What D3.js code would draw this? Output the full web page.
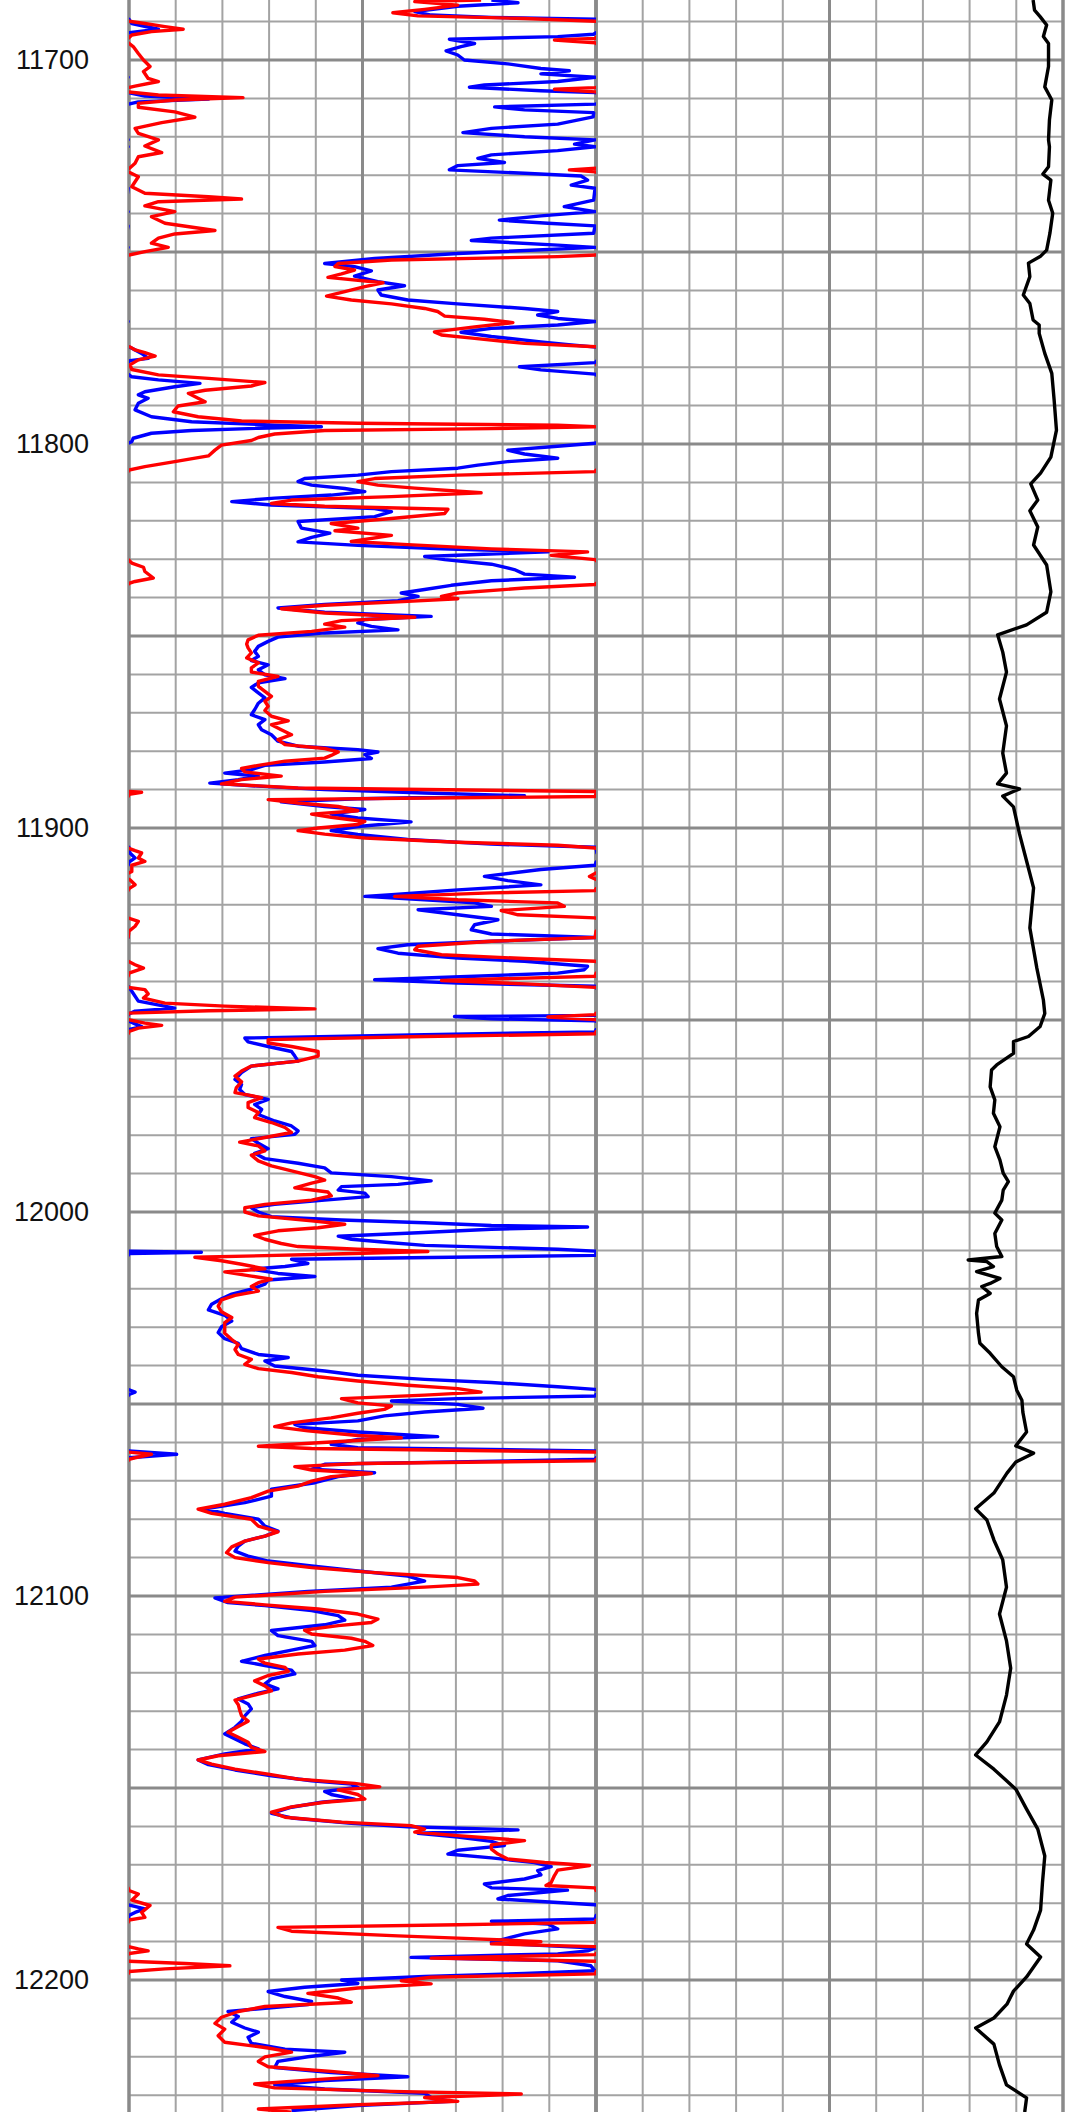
<!DOCTYPE html>
<html>
<head>
<meta charset="utf-8">
<script src="https://cdn.jsdelivr.net/npm/d3@7"></script>
<style>
body { margin: 0; background: #fff; }
svg { display: block; }
</style>
</head>
<body>
<div id="display"></div>
<script>
// depth labels on the left
const depth_labels = [11700, 11800, 11900, 12000, 12100, 12200];

// track 1, blue curve (values above 100 wrap back onto the track)
const blue_depth = [11684.4,11685.1,11686.0,11687.4,11688.3,11688.9,11689.4,11690.5,11692.0,11692.9,11693.3,11693.9,11694.6,11695.7,11696.5,11697.6,11698.7,11700.0,11701.0,11702.2,11702.8,11703.6,11704.5,11705.6,11706.5,11707.1,11708.0,11708.5,11709.4,11710.2,11710.9,11711.5,11712.2,11713.0,11713.7,11714.8,11716.7,11717.8,11718.9,11720.0,11720.8,11721.9,11722.6,11723.6,11724.7,11725.6,11726.7,11727.5,11728.6,11729.5,11730.2,11731.3,11732.6,11733.4,11736.5,11738.2,11739.5,11740.6,11741.7,11742.5,11743.2,11745.1,11746.4,11747.0,11748.2,11748.8,11750.4,11751.7,11753.0,11753.8,11754.9,11756.3,11757.7,11758.8,11759.9,11761.2,11762.5,11763.5,11764.7,11765.5,11766.4,11767.3,11768.1,11769.0,11769.9,11770.9,11772.0,11773.4,11774.2,11774.8,11776.4,11777.7,11778.3,11778.8,11779.9,11780.7,11781.8,11782.5,11783.3,11784.2,11785.1,11786.4,11787.2,11788.1,11789.4,11791.1,11792.9,11794.2,11795.1,11795.5,11795.9,11796.5,11797.2,11798.5,11799.4,11799.8,11800.7,11801.6,11802.6,11803.7,11804.6,11805.5,11806.3,11807.2,11808.1,11809.0,11809.8,11810.7,11811.6,11812.4,11813.3,11814.1,11815.0,11815.9,11816.8,11817.6,11818.9,11820.2,
  11821.9,11823.2,11824.3,11825.5,11826.4,11827.3,11828.1,11829.3,11830.1,11831.3,11832.7,11833.9,11834.7,11835.6,11836.8,11837.9,11838.8,11839.7,11840.8,11841.8,11842.7,11843.8,11844.9,11845.7,11846.6,11847.5,11848.4,11849.2,11850.3,11851.4,11852.7,11854.0,11855.3,11856.4,11857.5,11858.8,11860.1,11861.1,11862.2,11863.4,11864.8,11866.1,11867.5,11869.2,11870.5,11871.8,11873.1,11874.4,11875.7,11877.4,11878.7,11879.6,11880.2,11880.9,11881.9,11882.8,11883.7,11884.8,11885.7,11886.5,11887.4,11888.3,11889.1,11890.0,11890.9,11891.6,11892.4,11893.2,11894.4,11895.2,11896.4,11897.4,11898.4,11899.6,11900.7,11901.7,11903.0,11904.2,11905.0,11906.5,11907.8,11908.9,11909.7,11910.8,11912.6,11913.7,11914.8,11916.1,11917.4,11917.8,11918.7,11919.5,11920.4,11921.3,11922.6,11923.9,11925.2,11926.5,11927.6,11928.5,11929.5,11930.4,11931.4,11932.6,11933.9,11934.7,11936.0,11936.9,11937.8,11938.6,11939.5,11940.4,11941.2,11942.5,11945.1,11946.9,11947.7,11948.4,11948.8,11949.1,11949.7,11950.2,11951.0,11951.7,11952.5,11953.1,11953.8,11954.7,11955.7,11956.9,11958.2,
  11959.4,11960.7,11962.0,11963.7,11965.5,11966.8,11968.1,11969.4,11970.7,11972.0,11973.3,11974.6,11976.3,11977.6,11978.9,11979.8,11980.9,11982.1,11983.5,11984.7,11986.1,11987.3,11988.5,11989.8,11990.8,11991.9,11992.8,11993.4,11994.3,11995.1,11996.0,11996.9,11998.0,11998.9,12000.0,12001.2,12002.1,12002.8,12003.5,12003.9,12004.5,12005.4,12006.3,12007.1,12008.0,12008.7,12009.7,12010.2,12010.5,12010.8,12011.3,12012.3,12013.4,12014.2,12014.9,12016.0,12016.8,12017.7,12018.8,12020.1,12021.4,12022.6,12024.0,12025.5,12026.9,12028.4,12029.9,12031.4,12033.0,12034.2,12035.6,12037.1,12037.9,12038.8,12040.1,12041.4,12042.5,12043.6,12044.4,12045.5,12046.2,12046.9,12047.5,12047.9,12048.6,12049.2,12050.1,12051.1,12052.1,12053.1,12054.4,12055.3,12056.2,12057.3,12058.5,12059.2,12060.5,12061.4,12062.2,12063.1,12064.0,12064.4,12065.7,12067.0,12067.9,12068.9,12070.5,12072.2,12074.0,12075.7,12077.3,12078.5,12080.0,12081.8,12083.1,12084.4,12085.7,12087.0,12088.3,12089.6,12090.9,12092.2,12093.5,12094.8,12096.1,
  12096.9,12097.7,12098.8,12100.5,12101.7,12102.5,12103.8,12105.1,12106.3,12107.5,12109.0,12110.3,12111.8,12112.9,12114.1,12115.5,12117.0,12118.1,12119.3,12120.3,12121.6,12122.9,12124.2,12125.3,12126.8,12128.1,12129.4,12131.2,12132.6,12134.2,12135.9,12137.2,12138.5,12139.8,12141.1,12142.7,12143.9,12145.3,12146.8,12148.1,12149.0,12149.8,12150.9,12151.7,12152.9,12153.7,12155.0,12156.6,12157.8,12159.2,12160.1,12160.9,12161.8,12162.8,12163.9,12165.0,12166.2,12167.2,12168.2,12169.4,12170.5,12171.5,12172.6,12173.7,12175.0,12176.0,12176.6,12177.2,12178.0,12178.9,12179.8,12180.4,12181.5,12182.4,12183.2,12184.1,12184.7,12185.4,12186.7,12188.0,12189.1,12190.2,12190.8,12191.7,12192.4,12193.2,12194.1,12195.0,12196.3,12197.6,12198.3,12199.1,12200.0,12200.9,12201.9,12203.0,12204.3,12205.6,12206.4,12207.3,12208.2,12209.5,12211.0,12212.5,12213.6,12214.9,12216.5,12218.0,12218.8,12220.0,12221.2,12222.8,12224.1,12225.2,12226.2,12227.3,12228.4,12229.5,12230.6,12231.6,12232.7,12234.0];
const blue_value = [77.6,83.3,70.4,61.2,64.7,77.6,100,100.6,106.3,100,99.5,91.8,68.6,74.0,71.1,67.9,70.4,71.8,81.1,88.2,94.3,88.2,99.8,91.8,76.1,72.9,88.2,99.8,103.4,117.0,102.0,99.8,78.3,84.7,99.5,99.4,91.8,77.6,71.5,84.7,99.8,95.4,99.8,91.8,77.6,74.7,80.4,70.4,68.6,84.7,96.8,98.2,94.7,99.8,99.5,93.2,99.8,88.2,79.3,89.7,99.8,99.5,77.6,73.3,91.8,99.8,70.4,52.6,41.9,48.3,51.9,48.3,53.3,59.0,53.3,54.0,59.7,70.4,84.7,91.8,87.5,91.8,99.8,91.8,77.6,71.1,77.6,88.2,94.7,100.2,102.7,104.1,100.2,99.8,83.6,88.2,99.8,100.6,106.3,115.2,109.8,103.4,102.0,104.1,102.0,101.3,104.8,113.4,131.2,141.2,127.7,113.4,104.8,100.9,100.6,99.8,90.4,81.1,84.7,91.8,81.1,74.7,70.4,56.2,49.0,37.6,36.2,39.1,46.2,50.5,43.3,31.2,22.0,30.5,52.6,56.2,52.6,36.2,
  36.9,43.0,39.1,36.2,49.0,66.9,89.7,63.3,67.6,77.6,82.5,84.7,95.4,77.6,69.0,63.3,58.3,61.9,57.6,41.9,31.9,41.9,64.7,50.5,49.0,51.9,57.6,41.9,31.9,29.8,27.7,26.9,27.7,26.2,29.8,27.7,29.1,33.4,27.7,26.2,27.7,29.1,27.7,26.9,26.2,29.1,27.7,28.4,30.5,31.9,36.2,49.0,53.3,50.5,51.9,41.9,29.1,26.2,20.5,27.7,23.4,17.3,27.7,41.9,63.3,84.7,49.0,32.6,41.9,50.5,43.3,49.0,60.4,49.0,43.3,49.0,59.7,77.6,100,100.2,101.3,100,99.8,88.2,76.1,81.1,88.2,70.4,56.2,50.5,63.3,74.0,77.6,61.9,70.4,79.0,74.0,73.3,77.6,99.8,77.6,59.7,53.3,57.6,70.4,84.7,98.2,97.5,91.8,74.0,52.6,70.4,99.8,100.6,102.0,109.8,101.3,100,99.8,69.7,77.6,99.8,101.3,102.7,100,99.8,63.3,24.8,25.5,29.8,34.8,
  35.5,36.2,26.2,24.1,22.7,24.1,23.7,24.8,29.8,26.9,28.4,27.7,31.2,34.8,36.2,35.5,26.2,27.7,29.8,26.9,29.1,36.2,41.9,43.3,56.2,64.7,57.6,45.5,44.8,50.5,51.2,41.9,31.2,26.2,27.7,30.5,45.5,63.3,77.6,98.2,77.6,61.9,44.8,47.6,56.2,63.3,91.8,99.8,115.5,100,99.8,34.8,38.3,33.4,26.2,31.9,39.8,29.8,29.1,26.2,22.0,19.8,17.7,17.0,20.5,22.0,19.8,19.1,20.5,23.4,24.1,27.7,34.1,29.1,31.2,41.9,49.0,63.3,77.6,91.8,99.8,101.3,100,99.8,70.4,56.2,70.4,75.8,63.3,54.7,49.0,35.5,37.6,49.0,66.1,49.0,43.3,49.0,99.8,110.2,100,99.8,41.9,39.1,52.6,44.8,39.8,30.5,30.5,24.8,16.3,20.5,27.7,29.1,31.9,29.1,24.8,23.4,22.7,25.5,29.8,39.1,49.0,59.7,63.3,
  59.7,56.2,38.3,18.4,21.2,29.1,39.1,44.8,46.2,41.9,30.5,31.9,39.1,39.8,34.8,29.1,24.1,29.1,34.8,35.5,30.5,29.1,31.9,27.7,23.4,25.5,26.2,24.8,24.1,22.7,20.5,22.7,24.8,27.7,20.5,14.8,17.0,22.7,30.5,39.1,47.6,49.0,41.9,43.3,48.3,41.2,34.8,30.5,34.8,47.6,59.7,83.3,61.9,70.4,77.6,80.4,70.4,68.3,77.6,86.8,90.4,87.5,88.2,84.7,76.1,77.6,93.9,88.2,81.1,79.0,91.8,99.8,103.4,101.3,100,99.8,77.6,89.7,91.8,84.7,81.1,77.6,84.7,99.8,98.2,91.8,60.4,91.8,98.9,99.8,84.7,63.3,45.5,49.0,37.6,29.8,33.4,39.1,38.3,29.8,21.2,23.4,22.0,24.8,27.7,25.5,26.2,33.4,46.2,38.3,31.9,31.2,43.3,59.7,41.9,31.2,41.9,63.3,64.7,69.0,49.0,34.8];

// track 1, red curve
const red_depth = [11684.4,11684.8,11685.7,11686.8,11687.7,11688.5,11689.2,11689.9,11690.5,11691.3,11692.0,11692.6,11693.5,11694.4,11694.8,11695.5,11696.5,11698.3,11700.0,11701.7,11703.0,11704.8,11705.6,11706.8,11707.2,11707.6,11708.3,11709.1,11709.8,11710.4,11711.3,11712.3,11713.5,11714.9,11716.3,11717.8,11719.1,11720.8,11722.4,11724.1,11725.2,11726.9,11728.2,11728.6,11729.1,11730.4,11733.0,11734.7,11735.6,11736.2,11736.9,11738.0,11739.5,11740.8,11742.5,11744.4,11745.3,11746.4,11747.7,11748.8,11749.9,11750.8,11751.2,11752.1,11753.0,11753.8,11754.7,11755.7,11756.6,11758.0,11759.0,11760.3,11761.5,11762.5,11763.5,11764.7,11765.5,11766.7,11767.5,11768.4,11769.5,11770.8,11771.6,11772.5,11773.8,11774.7,11775.5,11776.2,11777.1,11778.1,11779.4,11780.6,11782.0,11782.9,11784.0,11784.9,11786.0,11786.8,11788.1,11789.0,11790.1,11791.6,11792.9,11794.0,11794.6,11795.1,11795.5,11796.0,11796.5,11797.4,11798.3,11799.1,11800.3,11801.6,11803.1,11804.6,11805.9,11806.8,11807.2,11808.1,11809.0,11809.8,11810.7,11811.5,11812.7,11813.7,11814.6,11815.5,11816.2,11817.0,11818.1,11819.4,11820.7,
  11821.9,11822.6,11823.8,11825.4,11826.2,11827.3,11828.1,11829.0,11830.1,11831.0,11832.1,11833.2,11834.9,11835.8,11836.3,11836.6,11837.5,11838.8,11839.7,11840.3,11841.1,11842.0,11842.9,11844.0,11845.1,11846.0,11846.9,11847.7,11848.8,11849.8,11851.0,11852.1,11853.1,11854.4,11855.7,11857.0,11858.3,11859.4,11860.5,11861.8,11863.1,11864.4,11865.7,11867.0,11868.3,11869.4,11870.9,11872.1,11873.1,11874.4,11875.7,11877.0,11878.3,11879.3,11880.2,11881.1,11881.8,11882.6,11883.7,11884.5,11885.4,11886.5,11887.4,11888.5,11889.6,11890.5,11890.7,11891.2,11891.8,11892.6,11893.5,11894.4,11895.5,11896.4,11897.2,11898.3,11899.1,11900.0,11900.7,11901.6,11902.6,11903.7,11904.5,11905.2,11905.9,11906.5,11907.8,11908.7,11909.7,11911.3,11912.6,11913.5,11914.8,11915.8,11916.3,11916.9,11917.8,11918.7,11919.5,11920.4,11921.5,11922.6,11923.4,11924.3,11925.6,11926.9,11928.5,11929.5,11930.8,11931.7,11933.0,11934.0,11934.7,11935.6,11936.5,11937.8,11938.6,11939.7,11940.6,11941.5,11942.1,11943.2,11944.3,11945.6,11946.4,11947.1,11947.6,11948.2,11948.6,11949.2,11949.9,11950.8,11951.4,11952.1,11953.0,11953.6,11954.3,11955.1,11956.0,11956.9,11958.2,
  11959.4,11960.7,11962.0,11963.3,11964.6,11966.1,11967.6,11968.9,11970.2,11971.5,11972.8,11974.1,11975.4,11976.7,11978.0,11979.3,11980.6,11981.8,11982.8,11984.1,11985.2,11986.7,11988.0,11989.3,11990.8,11991.7,11992.5,11993.7,11994.8,11995.8,11996.9,11998.0,11998.9,12000.0,12001.0,12002.3,12003.2,12004.1,12004.9,12006.1,12007.1,12008.2,12009.0,12009.7,12010.3,12011.0,12011.8,12012.7,12013.6,12014.8,12015.6,12016.7,12017.5,12018.4,12019.4,12020.6,12021.7,12022.9,12024.5,12026.0,12027.5,12028.8,12030.1,12031.6,12033.2,12034.5,12035.8,12037.1,12038.4,12039.7,12040.8,12041.8,12042.9,12044.0,12045.1,12046.0,12046.9,12047.7,12048.6,12049.7,12050.5,12051.4,12052.4,12053.6,12054.9,12055.9,12057.0,12058.2,12058.8,12059.9,12061.0,12061.6,12062.5,12063.1,12064.0,12064.4,12064.8,12065.5,12066.3,12067.2,12068.1,12068.9,12070.1,12071.4,12072.7,12074.4,12076.1,12077.4,12078.5,12080.0,12081.8,12083.3,12084.4,12085.7,12087.2,12088.7,12090.0,12091.3,12092.6,12093.9,12095.2,12096.1,
  12096.9,12097.7,12098.8,12100.3,12101.4,12102.3,12103.4,12104.7,12106.0,12106.9,12107.7,12108.9,12109.9,12111.0,12111.8,12112.9,12114.1,12115.1,12116.4,12117.5,12118.6,12119.6,12120.7,12122.1,12123.4,12124.7,12126.0,12127.1,12128.3,12129.7,12131.2,12132.6,12134.0,12135.5,12136.8,12138.1,12139.4,12140.5,12141.6,12142.7,12143.8,12145.1,12146.4,12147.7,12148.8,12149.7,12150.5,12151.7,12152.9,12153.7,12154.9,12156.3,12157.6,12158.9,12159.8,12160.7,12161.5,12162.4,12163.7,12164.8,12165.9,12167.2,12168.5,12169.4,12170.2,12171.4,12172.8,12174.6,12175.4,12176.0,12176.7,12177.6,12179.2,12180.6,12182.4,12183.7,12184.4,12185.0,12185.6,12186.3,12187.3,12188.5,12189.1,12190.0,12190.6,12191.3,12191.9,12192.4,12193.1,12193.4,12194.3,12195.1,12195.7,12196.3,12197.1,12197.8,12198.4,12199.3,12200.2,12201.0,12202.1,12203.5,12204.7,12205.8,12206.9,12208.2,12209.7,12211.3,12212.8,12214.5,12216.2,12217.7,12218.8,12220.0,12221.2,12222.6,12223.8,12224.9,12226.0,12227.1,12228.1,12229.0,12229.7,12230.6,12231.6,12232.5,12233.6,12234.4];
const red_value = [75.4,61.2,70.4,63.3,56.5,61.9,84.7,100,103.4,107.7,111.6,104.8,100.6,99.8,91.1,99.8,100.9,102.0,103.1,104.5,103.1,104.1,106.3,101.3,99.8,91.1,99.8,106.3,124.4,109.8,102.0,102.0,109.8,114.1,107.0,101.3,102.0,106.3,103.4,107.0,102.0,101.3,100.1,94.3,99.8,102.0,100.6,103.4,117.0,124.1,106.3,103.4,109.8,104.8,107.7,118.4,109.8,106.3,104.8,108.4,103.4,100,91.8,56.2,44.8,44.1,48.3,45.5,42.6,54.4,50.5,46.2,42.3,47.6,56.2,63.3,66.1,67.6,76.1,82.2,74.0,65.4,66.9,74.0,84.7,100.2,101.3,103.4,105.6,102.0,100.2,100.6,106.3,117.0,129.1,126.2,116.3,112.7,114.8,116.3,110.5,109.5,114.8,124.1,149.0,191.8,199.8,177.6,141.9,131.2,127.7,126.2,119.8,118.4,117.0,109.8,103.4,100,99.8,70.4,52.6,49.0,53.3,61.2,75.4,56.2,34.8,30.5,41.9,68.3,67.6,56.2,43.3,
  49.0,44.1,56.2,47.6,59.7,77.6,98.2,90.4,99.8,100.6,103.1,103.4,105.2,101.3,100,99.8,84.7,70.4,66.9,70.4,57.6,41.9,32.6,41.9,61.2,45.5,41.9,46.2,39.1,27.7,25.5,25.2,25.5,26.2,25.2,27.7,26.2,26.2,31.9,27.7,27.7,29.1,30.5,29.1,29.8,29.1,30.5,34.1,30.5,32.6,34.8,31.9,33.4,41.9,44.8,43.3,41.9,33.4,27.7,24.1,24.8,32.6,24.1,19.8,36.2,99.8,102.7,100,99.8,29.8,36.2,44.8,49.0,39.1,43.3,50.5,49.0,40.5,36.2,41.9,50.5,70.4,91.8,99.8,101.3,102.7,102.0,103.4,100.6,100.6,98.6,100.2,101.3,100,99.8,77.6,56.9,70.4,91.8,93.2,79.7,83.3,99.8,102.0,101.3,100,99.8,77.6,61.9,61.2,66.9,84.7,99.8,101.3,103.1,100,99.8,66.9,84.7,99.8,103.4,104.1,103.1,107.7,120.5,139.8,117.0,100,99.8,89.7,99.8,103.4,107.0,102.0,100,99.8,63.3,29.8,29.8,34.8,40.5,
  40.5,36.2,26.2,24.1,22.7,24.1,23.0,22.7,28.4,25.5,25.5,27.7,26.9,30.5,33.4,34.8,29.1,23.7,27.7,29.1,26.2,27.7,30.5,34.8,39.8,41.9,39.1,35.5,42.6,43.3,39.1,29.1,24.8,24.8,27.7,39.1,46.2,40.5,31.9,26.9,29.1,32.6,36.2,49.0,64.0,41.9,14.1,19.8,24.1,29.1,20.5,26.2,30.5,27.7,26.2,27.7,22.7,19.8,19.1,19.8,22.0,20.5,20.5,20.5,22.0,23.4,22.7,23.4,26.2,24.8,27.7,34.8,40.5,49.0,59.7,70.4,75.4,63.3,45.5,49.0,56.2,54.7,49.0,43.3,34.8,31.2,38.3,49.0,58.3,43.3,27.7,39.1,99.8,104.8,101.3,100,99.8,49.0,35.5,39.1,51.9,43.3,39.1,36.2,29.8,26.2,20.5,14.8,17.7,26.2,27.7,31.9,29.1,24.8,22.0,20.9,22.7,29.8,39.1,52.6,70.4,74.0,
  74.7,63.3,41.9,22.7,20.5,29.1,40.5,49.0,53.3,51.9,44.8,37.6,39.1,47.6,50.5,52.2,46.2,36.2,27.7,29.1,33.4,34.1,29.8,26.9,29.1,30.5,26.2,22.7,23.4,23.7,24.1,25.5,23.4,21.2,23.4,25.5,26.2,29.1,19.1,14.8,17.7,22.7,29.8,36.2,48.3,53.7,44.8,49.0,50.5,41.9,34.8,30.5,33.4,45.5,60.4,63.3,61.2,70.4,84.7,77.6,77.6,79.0,81.1,89.0,98.6,91.8,91.1,90.4,89.3,99.8,100,102.0,100.6,104.5,102.7,103.4,100,99.8,70.4,31.9,34.8,57.6,70.4,88.2,77.6,99.8,102.0,104.1,100,99.8,64.7,99.8,112.0,121.6,107.7,100,99.8,64.7,58.3,64.7,49.0,38.3,44.8,47.6,29.1,23.4,19.8,18.4,20.5,19.1,20.5,29.8,34.8,29.1,27.7,29.8,43.3,53.3,39.1,26.9,31.2,56.2,84.0,63.3,70.4,49.0,27.7,34.8];

// track 2, black curve
const black_depth = [11684.4,11687.0,11688.7,11690.9,11692.6,11693.9,11695.7,11701.7,11707.0,11710.4,11715.6,11720.8,11722.6,11727.8,11729.7,11731.3,11736.5,11739.9,11745.1,11749.5,11751.2,11752.9,11756.4,11761.2,11763.4,11767.7,11769.0,11771.2,11776.4,11781.6,11788.5,11796.4,11803.4,11807.6,11810.4,11814.6,11817.4,11821.6,11826.3,11831.5,11838.5,11843.8,11847.1,11849.7,11854.2,11859.4,11866.4,11873.4,11880.5,11885.7,11888.5,11889.8,11891.7,11894.5,11901.6,11908.6,11915.6,11926.0,11936.5,11944.8,11948.3,11951.7,11954.3,11955.6,11958.7,11961.7,11963.0,11967.4,11970.8,11974.3,11977.8,11983.0,11986.5,11989.9,11992.1,11994.3,11996.9,12000.3,12002.1,12005.6,12009.0,12011.6,12012.5,12012.9,12014.2,12015.5,12017.3,12018.6,12019.4,12021.2,12022.9,12026.4,12031.6,12034.2,12036.8,12040.3,12042.9,12046.4,12049.0,12052.1,12057.3,12060.9,12062.8,12065.1,12068.0,12073.2,12077.3,12080.2,12085.4,12090.6,12097.7,12104.7,12111.7,12118.8,12125.8,12132.8,12138.0,12141.4,12145.1,12150.3,12155.5,12160.7,12167.7,12174.7,12181.8,12187.0,12190.6,12194.0,12199.2,12202.9,12206.3,12209.9,12212.5,12216.7,12222.1,12227.3,12230.7,12234.4];
const black_value = [93.6,93.9,95.1,96.5,96.1,95.8,96.9,96.9,96.1,97.6,97.1,96.9,97.1,96.9,95.7,97.4,96.9,97.8,97.2,96.5,95.1,92.6,92.9,91.5,92.9,93.6,94.9,94.9,96.1,97.6,98.1,98.6,97.4,95.2,93.1,94.6,92.9,94.6,93.7,96.5,97.4,96.5,92.2,86.0,87.1,87.9,86.4,87.9,87.1,87.9,86.0,90.7,87.1,89.4,90.7,92.2,93.7,92.9,94.4,95.8,96.1,95.1,92.6,89.4,89.4,85.8,84.7,84.4,85.4,85.1,86.5,85.4,86.5,87.2,88.3,87.2,86.9,85.4,86.9,85.4,85.8,86.9,79.7,83.7,85.1,81.5,86.5,84.4,82.6,84.4,81.9,81.5,81.9,82.2,84.4,86.9,89.4,90.1,91.2,91.4,92.2,89.9,93.7,89.9,88.0,85.2,81.3,83.7,85.2,87.1,87.9,86.4,87.9,88.8,87.9,86.4,83.7,81.3,85.2,89.9,92.2,94.6,96.1,95.6,95.2,93.7,92.2,95.2,92.2,89.4,88.0,85.2,81.3,85.2,86.4,87.9,92.2,91.8];

const width = 1075;
const height = 2112;
const top_depth = 11684.375;
const bottom_depth = 12234.375;

const track1_left = 129, track1_right = 596, track2_right = 1063;

const svg = d3.select("#display").append("svg")
    .attr("width", width)
    .attr("height", height)
    .style("background", "#fff");

const y_scale = d3.scaleLinear().domain([top_depth, bottom_depth]).range([0, height]);
const x1_scale = d3.scaleLinear().domain([0, 100]).range([track1_left, track1_right]);
const x2_scale = d3.scaleLinear().domain([0, 100]).range([track1_right, track2_right]);

// clip paths for each track
const defs = svg.append("defs");
defs.append("clipPath").attr("id", "clip1").append("rect")
    .attr("x", track1_left).attr("y", 0)
    .attr("width", track1_right - track1_left).attr("height", height);
defs.append("clipPath").attr("id", "clip2").append("rect")
    .attr("x", track1_right).attr("y", 0)
    .attr("width", track2_right - track1_right).attr("height", height);

// GRID
const grid = svg.append("g").attr("class", "grid");
const depth_lines = d3.range(11690, 12240, 10);
const minor_color = "#a3a3a3", major_color = "#8a8a8a";

depth_lines.filter(d => d % 50 !== 0).forEach(d => {
    grid.append("line")
        .attr("x1", track1_left).attr("x2", track2_right)
        .attr("y1", y_scale(d)).attr("y2", y_scale(d))
        .attr("stroke", minor_color).attr("stroke-width", 2);
});
[x1_scale, x2_scale].forEach(sc => {
    sc.ticks(10).filter(v => v % 50 !== 0).forEach(v => {
        grid.append("line")
            .attr("x1", sc(v)).attr("x2", sc(v))
            .attr("y1", 0).attr("y2", height)
            .attr("stroke", minor_color).attr("stroke-width", 2);
    });
});
depth_lines.filter(d => d % 50 === 0).forEach(d => {
    grid.append("line")
        .attr("x1", track1_left).attr("x2", track2_right)
        .attr("y1", y_scale(d)).attr("y2", y_scale(d))
        .attr("stroke", major_color).attr("stroke-width", 3);
});
[x1_scale, x2_scale].forEach(sc => {
    [0, 50, 100].forEach(v => {
        grid.append("line")
            .attr("x1", sc(v)).attr("x2", sc(v))
            .attr("y1", 0).attr("y2", height)
            .attr("stroke", major_color).attr("stroke-width", v === 50 ? 3 : 3.5);
    });
});

// depth labels
const y_axis = d3.axisLeft(y_scale)
    .tickValues(depth_labels)
    .tickSize(0)
    .tickPadding(0)
    .tickFormat(d3.format("d"));
const gY = svg.append("g").attr("transform", "translate(89,0)").call(y_axis);
gY.select(".domain").remove();
gY.selectAll("text")
    .attr("font-family", "'Liberation Sans', Arial, sans-serif")
    .attr("font-size", 27)
    .attr("fill", "#111");

// CURVES
function draw_wrapped(depths, values, color) {
    const pts = depths.map((d, i) => ({ d: d, v: values[i] }));
    const g = svg.append("g").attr("clip-path", "url(#clip1)");
    // main trace and the wrapped (backup) trace
    [0, 100].forEach(shift => {
        const line = d3.line()
            .x(p => x1_scale(p.v - shift))
            .y(p => y_scale(p.d));
        g.append("path")
            .attr("d", line(pts))
            .attr("fill", "none")
            .attr("stroke", color)
            .attr("stroke-width", 3.4)
            .attr("stroke-linejoin", "round");
    });
}

draw_wrapped(blue_depth, blue_value, "#0000ff");
draw_wrapped(red_depth, red_value, "#ff0000");

const black_line = d3.line()
    .x((v, i) => x2_scale(v))
    .y((v, i) => y_scale(black_depth[i]));
svg.append("g").attr("clip-path", "url(#clip2)")
    .append("path")
    .attr("d", black_line(black_value))
    .attr("fill", "none")
    .attr("stroke", "#000")
    .attr("stroke-width", 3.4)
    .attr("stroke-linejoin", "round");
</script>
</body>
</html>
